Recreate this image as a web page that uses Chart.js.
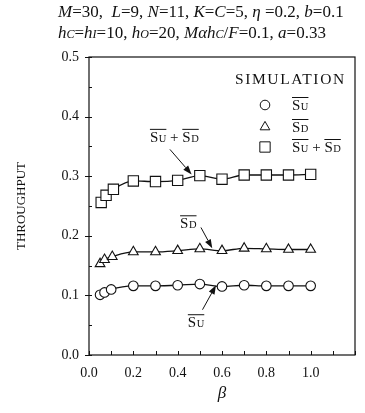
<!DOCTYPE html>
<html>
<head>
<meta charset="utf-8">
<script src="https://cdn.jsdelivr.net/npm/chart.js@4/dist/chart.umd.min.js"></script>
<style>
  html,body{margin:0;padding:0;background:#fff;}
  #wrap{position:relative;width:365px;height:413px;overflow:hidden;}
  #c{position:absolute;left:0;top:0;}
  .t{position:absolute;left:58px;font-family:"Liberation Serif",serif;font-size:17px;color:#111;white-space:nowrap;line-height:20px;}
  .t i{font-style:italic;}
  .sc{font-size:12px;font-style:italic;}
</style>
</head>
<body>
<div id="wrap">
  <canvas id="c" width="365" height="413"></canvas>
  <div class="t" style="top:2px;"><i>M</i>=30,&nbsp; <i>L</i>=9, <i>N</i>=11, <i>K</i>=<i>C</i>=5, <i>η</i> =0.2, <i>b</i>=0.1</div>
  <div class="t" style="top:23px;"><i>h</i><span class="sc">C</span>=<i>h</i><span class="sc">I</span>=10, <i>h</i><span class="sc">O</span>=20, <i>Mαh</i><span class="sc">C</span>/<i>F</i>=0.1, <i>a</i>=0.33</div>
</div>
<script>
// ---- data ----
const betaU   = [0.05, 0.07, 0.10, 0.2, 0.3, 0.4, 0.5, 0.6, 0.7, 0.8, 0.9, 1.0];
const suValues = [0.101, 0.105, 0.110, 0.116, 0.116, 0.117, 0.119, 0.115, 0.117, 0.116, 0.116, 0.116];
const betaD   = [0.05, 0.07, 0.105, 0.2, 0.3, 0.4, 0.5, 0.6, 0.7, 0.8, 0.9, 1.0];
const sdValues = [0.153, 0.160, 0.165, 0.173, 0.173, 0.175, 0.178, 0.175, 0.179, 0.178, 0.177, 0.177];
const betaSum = [0.055, 0.077, 0.11, 0.2, 0.3, 0.4, 0.5, 0.6, 0.7, 0.8, 0.9, 1.0];
const sumValues = [0.256, 0.268, 0.278, 0.292, 0.291, 0.293, 0.301, 0.295, 0.302, 0.302, 0.302, 0.303];
const xTickLabels = ['0.0', '0.2', '0.4', '0.6', '0.8', '1.0'];
const yTickLabels = ['0.0', '0.1', '0.2', '0.3', '0.4', '0.5'];
const xTitle = 'β';
const yTitle = 'THROUGHPUT';
const legendTitle = 'SIMULATION';
// annotations: label position and arrow (tail -> head) in data units
const annotations = [
  {parts: ['U', 'D'], lx: 0.385, ly: 0.366, tail: [0.365, 0.345], head: [0.463, 0.303]},
  {parts: ['D'], lx: 0.448, ly: 0.221, tail: [0.505, 0.214], head: [0.556, 0.179]},
  {parts: ['U'], lx: 0.483, ly: 0.055, tail: [0.512, 0.076], head: [0.573, 0.117]}
];

const SERIF = '"Liberation Serif", "Times New Roman", serif';

function mk(xs, ys) { return xs.map((x, i) => ({x: x, y: ys[i]})); }

function drawSbar(ctx, x, y, sub) {
  ctx.font = '15px ' + SERIF;
  const w1 = ctx.measureText('S').width;
  ctx.fillText('S', x, y);
  ctx.font = '10.5px ' + SERIF;
  const w2 = ctx.measureText(sub).width;
  ctx.fillText(sub, x + w1 + 0.5, y);
  const w = w1 + 0.5 + w2;
  ctx.beginPath();
  ctx.moveTo(x, y - 12.5);
  ctx.lineTo(x + w, y - 12.5);
  ctx.lineWidth = 1;
  ctx.stroke();
  return w;
}
function measureLabel(ctx, parts) {
  let w = 0;
  parts.forEach((p, i) => {
    ctx.font = '15px ' + SERIF; w += ctx.measureText('S').width + 0.5;
    ctx.font = '10.5px ' + SERIF; w += ctx.measureText(p).width;
    if (i < parts.length - 1) { ctx.font = '15px ' + SERIF; w += ctx.measureText(' + ').width; }
  });
  return w;
}
function drawLabel(ctx, x, y, parts) {
  let cx = x;
  parts.forEach((p, i) => {
    cx += drawSbar(ctx, cx, y, p);
    if (i < parts.length - 1) {
      ctx.font = '15px ' + SERIF;
      ctx.fillText(' + ', cx, y);
      cx += ctx.measureText(' + ').width;
    }
  });
}
function arrow(ctx, x1, y1, x2, y2) {
  const a = Math.atan2(y2 - y1, x2 - x1);
  const L = 9, W = 3.2;
  ctx.beginPath();
  ctx.moveTo(x1, y1);
  ctx.lineTo(x2 - L * Math.cos(a), y2 - L * Math.sin(a));
  ctx.lineWidth = 1;
  ctx.stroke();
  ctx.beginPath();
  ctx.moveTo(x2, y2);
  ctx.lineTo(x2 - L * Math.cos(a) + W * Math.sin(a), y2 - L * Math.sin(a) - W * Math.cos(a));
  ctx.lineTo(x2 - L * Math.cos(a) - W * Math.sin(a), y2 - L * Math.sin(a) + W * Math.cos(a));
  ctx.closePath();
  ctx.fill();
}

const decor = {
  id: 'decor',
  afterDatasetsDraw(chart) {
    const ctx = chart.ctx, a = chart.chartArea;
    const xs = chart.scales.x, ys = chart.scales.y;
    ctx.save();
    ctx.strokeStyle = '#111'; ctx.fillStyle = '#111';
    ctx.lineWidth = 1.2;
    ctx.strokeRect(a.left, a.top, a.right - a.left, a.bottom - a.top);
    ctx.lineWidth = 1;
    for (let v = 0; v <= 1.2001; v += 0.1) {
      const px = Math.round(xs.getPixelForValue(v)) + 0.5;
      ctx.beginPath(); ctx.moveTo(px, a.bottom); ctx.lineTo(px, a.bottom - 4); ctx.stroke();
    }
    for (let k = 0; k <= 10; k++) {
      const v = k * 0.05;
      const py = Math.round(ys.getPixelForValue(v)) + 0.5;
      ctx.beginPath();
      if (k % 2 === 0) { ctx.moveTo(a.left - 4, py); ctx.lineTo(a.left + 3, py); }
      else { ctx.moveTo(a.left, py); ctx.lineTo(a.left + 3, py); }
      ctx.stroke();
    }
    // legend
    ctx.textBaseline = 'alphabetic';
    ctx.textAlign = 'left';
    ctx.font = '15.5px ' + SERIF;
    try { ctx.letterSpacing = '1.6px'; } catch (e) {}
    ctx.fillText(legendTitle, 235, 84);
    try { ctx.letterSpacing = '0px'; } catch (e) {}
    const ds = chart.data.datasets;
    const rows = [[105, ['U']], [127, ['D']], [147, ['U', 'D']]];
    rows.forEach((r, i) => {
      const d = ds[i];
      ctx.fillStyle = '#fff'; ctx.strokeStyle = '#111';
      Chart.helpers.drawPoint(ctx, {pointStyle: d.pointStyle, radius: d.pointRadius, borderWidth: 1.1}, 265, r[0]);
      ctx.fillStyle = '#111';
      drawLabel(ctx, 292, r[0] + 5, r[1]);
    });
    annotations.forEach(an => {
      const w = measureLabel(ctx, an.parts);
      const lx = xs.getPixelForValue(an.lx) - w / 2, ly = ys.getPixelForValue(an.ly) + 5;
      drawLabel(ctx, lx, ly, an.parts);
      arrow(ctx, xs.getPixelForValue(an.tail[0]), ys.getPixelForValue(an.tail[1]),
                 xs.getPixelForValue(an.head[0]), ys.getPixelForValue(an.head[1]));
    });
    ctx.restore();
  }
};

function series(label, xs, vals, style, r) {
  return {
    label: label, data: mk(xs, vals), showLine: true,
    borderColor: '#111', borderWidth: 1.3, backgroundColor: '#fff',
    pointStyle: style, pointRadius: r, pointBorderWidth: 1.1,
    pointBackgroundColor: '#fff', pointBorderColor: '#111',
    cubicInterpolationMode: 'monotone'
  };
}

new Chart(document.getElementById('c'), {
  type: 'scatter',
  data: {
    datasets: [
      series('S̄U', betaU, suValues, 'circle', 4.8),
      series('S̄D', betaD, sdValues, 'triangle', 5.6),
      series('S̄U + S̄D', betaSum, sumValues, 'rect', 7.3)
    ]
  },
  options: {
    responsive: false, animation: false, devicePixelRatio: 1,
    layout: {padding: {left: 14, right: 1, top: 57, bottom: 9}},
    plugins: {legend: {display: false}, tooltip: {enabled: false}},
    scales: {
      x: {
        type: 'linear', min: 0, max: 1.2,
        grid: {display: false, drawTicks: false},
        border: {display: false},
        ticks: {
          stepSize: 0.2, padding: 10, color: '#111', maxRotation: 0,
          font: {family: SERIF, size: 14},
          callback: (v) => { const i = Math.round(v / 0.2); return (i < xTickLabels.length && Math.abs(v - i * 0.2) < 1e-6) ? xTickLabels[i] : ''; }
        },
        title: {display: true, text: xTitle, color: '#111', font: {family: SERIF, size: 17, style: 'italic'}, padding: {top: 0, bottom: 0}},
        afterFit: (s) => { s.height = 49; }
      },
      y: {
        type: 'linear', min: 0, max: 0.5,
        grid: {display: false, drawTicks: false},
        border: {display: false},
        ticks: {
          stepSize: 0.1, padding: 10, color: '#111',
          font: {family: SERIF, size: 14},
          callback: (v) => { const i = Math.round(v / 0.1); return Math.abs(v - i * 0.1) < 1e-6 ? yTickLabels[i] : ''; }
        },
        title: {display: true, text: yTitle, color: '#111', font: {family: SERIF, size: 13}, padding: {top: 0, bottom: 0}},
        afterFit: (s) => { s.width = 75; }
      }
    }
  },
  plugins: [decor]
});
</script>
</body>
</html>
